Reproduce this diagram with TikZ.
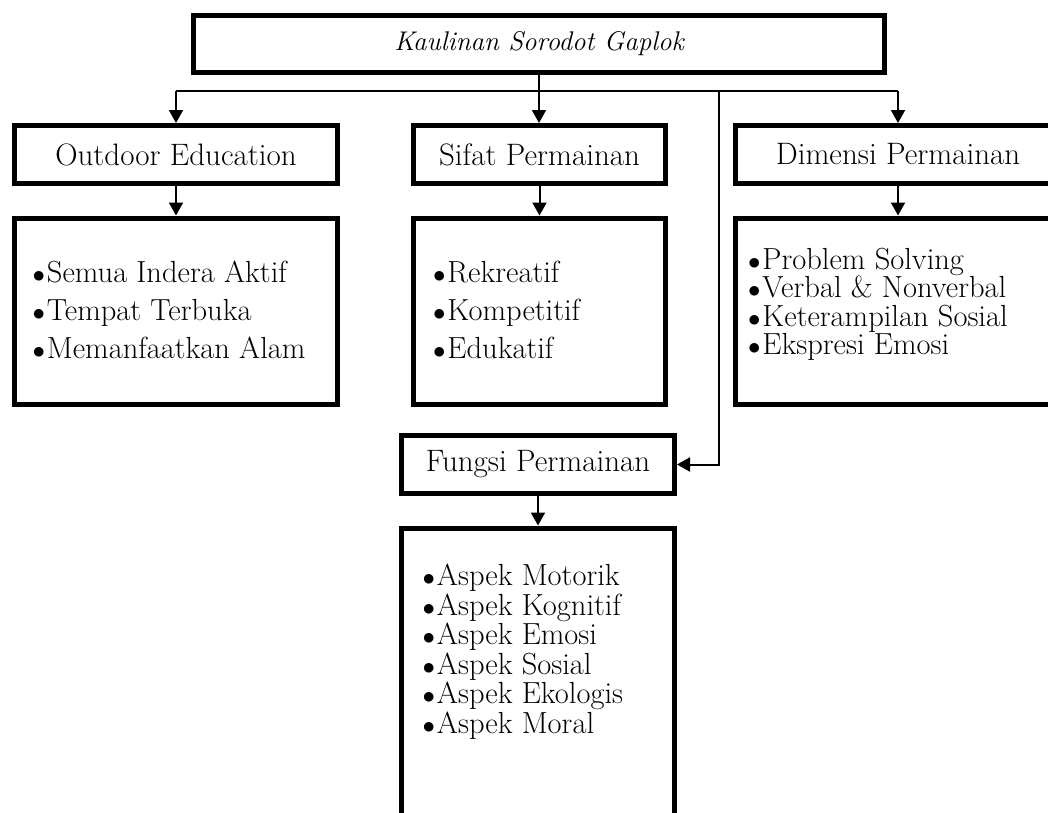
\documentclass[tikz,border=0pt]{standalone}
\usetikzlibrary{arrows.meta,positioning}
\newcommand{\bul}{$\bullet$\kern2pt}

\begin{document}
\begin{tikzpicture}[x=1pt,y=-1pt,
  >={Triangle[length=13pt,width=14pt]},
  box/.style={draw,line width=5pt,inner sep=0pt,font=\fontsize{31}{36}\selectfont},
  headbox/.style={box,minimum height=58pt},
  listbox/.style={box,anchor=north,inner ysep=0pt,font=\fontsize{30.5}{38}\selectfont},
  link/.style={line width=2pt}]
\useasboundingbox (0,0) rectangle (1048,812);
% title and the four groups
\node[box,minimum width=691pt,minimum height=57pt,font=\fontsize{27}{30}\itshape] (kaulinan) at (539,44) {Kaulinan Sorodot Gaplok};
\node[headbox,minimum width=323pt] (outdoor) at (176,154.5) {Outdoor Education};
\node[headbox,minimum width=252pt] (sifat) at (539.5,154.5) {Sifat Permainan};
\node[headbox,minimum width=325pt] (dimensi) at (898,154.5) {Dimensi Permainan};
\node[headbox,minimum width=273pt] (fungsi) at (538,464.5) {Fungsi Permainan};
% lists
\node[listbox,inner xsep=18pt] (outdoorlist) at (176,215.5)
  {\parbox[t][186pt][t]{287pt}{\vspace*{43pt}\raggedright
   \bul Semua Indera Aktif\\\bul Tempat Terbuka\\\bul Memanfaatkan Alam}};
\node[listbox,inner xsep=19.5pt] (sifatlist) at (539.5,215.5)
  {\parbox[t][186pt][t]{213pt}{\vspace*{43pt}\raggedright
   \bul Rekreatif\\\bul Kompetitif\\\bul Edukatif}};
\node[listbox,inner xsep=12.5pt,font=\fontsize{30.5}{28.5}\selectfont] (dimensilist) at (898,215.5)
  {\parbox[t][186pt][t]{300pt}{\vspace*{30pt}\raggedright
   \bul Problem Solving\\\bul Verbal \& Nonverbal\\\bul Keterampilan Sosial\\\bul Ekspresi Emosi}};
\node[listbox,inner xsep=21pt,font=\fontsize{30.5}{29.5}\selectfont] (fungsilist) at (538,525.5)
  {\parbox[t][330pt][t]{231pt}{\vspace*{36pt}\raggedright
   \bul Aspek Motorik\\\bul Aspek Kognitif\\\bul Aspek Emosi\\\bul Aspek Sosial\\\bul Aspek Ekologis\\\bul Aspek Moral}};
% connectors
\coordinate (bus) at (0,91);
\coordinate (tap) at (719,91);
\draw[link] (outdoor.north |- bus) -- (dimensi.north |- bus);
\draw[link,->] (kaulinan.south) -- (kaulinan.south |- sifat.north);
\draw[link,->] (outdoor.north |- bus) -- (outdoor.north);
\draw[link,->] (dimensi.north |- bus) -- (dimensi.north);
\draw[link,->] (tap) |- (fungsi.east);
\foreach \a in {outdoor,sifat,dimensi,fungsi}
  \draw[link,->] (\a.south) -- (\a list.north);
\end{tikzpicture}
\end{document}
